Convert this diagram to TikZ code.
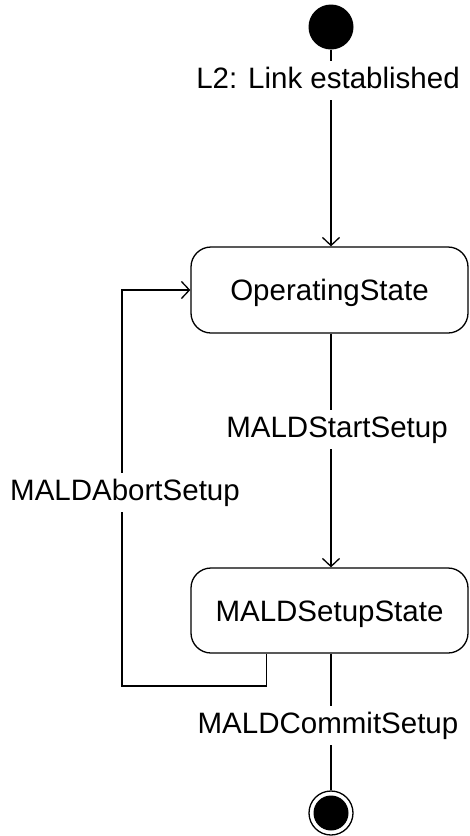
\documentclass[tikz,border=0pt]{standalone}
\usepackage{fontspec}
\setmainfont{Liberation Sans}
\usetikzlibrary{arrows.meta}
\begin{document}
\begin{tikzpicture}[x=1pt,y=-1pt,
  font=\fontsize{29.5}{34}\selectfont,
  trans/.style={draw=black, line width=1.3pt, -{Straight Barb[length=8pt,width=17pt,line width=1.3pt]}},
  plain/.style={draw=black, line width=1.3pt},
  state/.style={draw, line width=1.3pt, rounded corners=20pt, minimum width=277pt, minimum height=86pt, inner sep=0pt, text height=21.5pt, text depth=0pt},
  lbl/.style={fill=white, inner sep=5pt, text height=21.7pt, text depth=6.5pt, anchor=base}]
\useasboundingbox (0,0) rectangle (469,836);
\node[circle, fill=black, minimum size=45pt, inner sep=0pt] (init) at (331,27) {};
\node[state] (op) at (329.5,290) {OperatingState};
\node[state, minimum height=85pt, minimum width=277pt] (setup) at (329.5,610.5) {MALDSetupState};
\node[circle, draw, line width=1.3pt, minimum size=44pt, inner sep=0pt] (final) at (331,813) {};
\node[circle, fill=black, minimum size=35pt, inner sep=0pt] (finaldot) at (final.center) {};
% connectors
\draw[trans] (init) -- (init |- op.north);
\draw[trans] (init |- op.south) -- (init |- setup.north);
\draw[plain] (init |- setup.south) -- (final);
\draw[trans] ([xshift=76pt]setup.south west) |- (122,686) |- (op.west);
% labels
\node[lbl] (l1) at (328,88) {L2: Link established};
\node[lbl] (l2) at (337,437) {MALDStartSetup};
\node[lbl] (l3) at (125,500) {MALDAbortSetup};
\node[lbl] (l4) at (328,733) {MALDCommitSetup};
\end{tikzpicture}
\end{document}
